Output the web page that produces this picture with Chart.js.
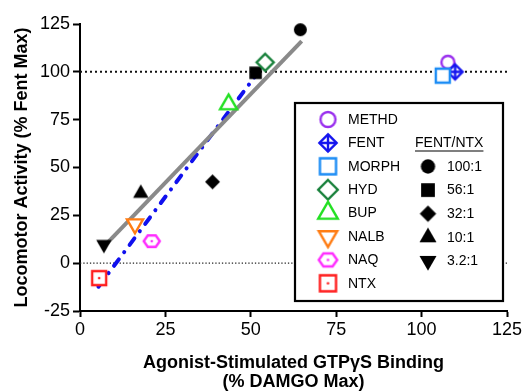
<!DOCTYPE html>
<html>
<head>
<meta charset="utf-8">
<script src="https://cdn.jsdelivr.net/npm/chart.js@4.4.1/dist/chart.umd.min.js"></script>
<style>
  body { margin: 0; background: #fff; }
  canvas { display: block; }
</style>
</head>
<body>
<canvas id="chart" width="526" height="391"></canvas>
<script>
// ============================
// Data
// ============================
const agonists = ['METHD', 'FENT', 'MORPH', 'HYD', 'BUP', 'NALB', 'NAQ', 'NTX'];
const agonistGtp = [107.7, 109.8, 106.2, 54.2, 43.5, 16.1, 21.0, 5.6];
const agonistLoco = [105, 100, 98, 105, 83, 20.5, 11.5, -7.8];

const ratios = ['100:1', '56:1', '32:1', '10:1', '3.2:1'];
const ratioGtp = [64.5, 51.4, 38.8, 17.8, 7.0];
const ratioLoco = [122, 99.5, 42.5, 36.5, 9.8];

// regression lines (all points in grey, FENT/NTX mixes in blue)
const fitAllGtp = [7.8, 64.9];
const fitAllLoco = [10.2, 116];
const fitMixGtp = [5.4, 51.6];
const fitMixLoco = [-12.3, 98.5];

const refLevels = [100, 0];
const xRange = [0, 125];
const yRange = [-25, 125];
const tickStep = 25;

const FONT = "'Liberation Sans', Arial, Helvetica, sans-serif";

// ============================
// Marker images
// ============================
function makeMarker(shape, color, size, filled, dot) {
    const pad = 4;
    const c = document.createElement('canvas');
    const dim = Math.ceil(size + pad * 2);
    c.width = dim; c.height = dim;
    const ctx = c.getContext('2d');
    const m = dim / 2, r = size / 2;
    ctx.lineWidth = 2.4;
    ctx.strokeStyle = color;
    ctx.fillStyle = filled ? color : '#fff';
    ctx.lineJoin = 'miter';
    ctx.beginPath();
    if (shape === 'circle') {
        ctx.arc(m, m, r, 0, Math.PI * 2);
    } else if (shape === 'square') {
        ctx.rect(m - r, m - r, size, size);
    } else if (shape === 'diamond' || shape === 'crossDiamond') {
        ctx.moveTo(m, m - r); ctx.lineTo(m + r, m); ctx.lineTo(m, m + r); ctx.lineTo(m - r, m);
    } else if (shape === 'triangle' || shape === 'triangleDown') {
        const R = size / Math.sqrt(3);
        const s = shape === 'triangle' ? 1 : -1;
        ctx.moveTo(m, m - s * R);
        ctx.lineTo(m + r, m + s * R / 2);
        ctx.lineTo(m - r, m + s * R / 2);
    } else if (shape === 'hexagon') {
        for (let i = 0; i < 6; i++) {
            const a = i * Math.PI / 3;
            const px = m + r * Math.cos(a), py = m + r * 0.82 * Math.sin(a);
            if (i === 0) ctx.moveTo(px, py); else ctx.lineTo(px, py);
        }
    }
    ctx.closePath();
    ctx.fill();
    if (!filled) ctx.stroke();
    if (shape === 'crossDiamond') {
        ctx.beginPath();
        ctx.moveTo(m - r, m); ctx.lineTo(m + r, m);
        ctx.moveTo(m, m - r); ctx.lineTo(m, m + r);
        ctx.stroke();
    }
    if (dot) {
        ctx.fillStyle = color;
        ctx.beginPath();
        ctx.arc(m, m, 1.3, 0, Math.PI * 2);
        ctx.fill();
    }
    return c;
}

const agonistMarkers = [
    ['circle', '#9a30ee', 13, false, false],
    ['crossDiamond', '#1414ee', 15, false, false],
    ['square', '#1b8cf5', 14, false, false],
    ['diamond', '#17803a', 17, false, false],
    ['triangle', '#22e022', 17, false, false],
    ['triangleDown', '#ff7d14', 16, false, false],
    ['hexagon', '#ff2cff', 16, false, true],
    ['square', '#ff1e1e', 14, false, true]
];
const ratioMarkers = [
    ['circle', '#000', 13, true],
    ['square', '#000', 12.5, true],
    ['diamond', '#000', 15, true],
    ['triangle', '#000', 15.5, true],
    ['triangleDown', '#000', 15.5, true]
];

const agonistImgs = agonistMarkers.map(a => makeMarker(...a));
const ratioImgs = ratioMarkers.map(a => makeMarker(...a));
const agonistLegendImgs = agonistMarkers.map(a => makeMarker(a[0], a[1], a[2] * 1.15, a[3], a[4]));
const ratioLegendImgs = ratioMarkers.map(a => makeMarker(a[0], a[1], a[2] * 1.1, a[3]));

function toPoints(xs, ys) {
    return xs.map((x, i) => ({ x: x, y: ys[i] }));
}

// ============================
// Legend box drawn inside the plot
// ============================
const legendBox = {
    id: 'legendBox',
    afterDatasetsDraw(chart) {
        const ctx = chart.ctx;
        const left = 295, top = 103, w = 208, h = 198;
        ctx.save();
        ctx.fillStyle = '#fff';
        ctx.fillRect(left, top, w, h);
        ctx.lineWidth = 2.2;
        ctx.strokeStyle = '#000';
        ctx.strokeRect(left, top, w, h);

        ctx.font = '14px ' + FONT;
        ctx.fillStyle = '#000';
        ctx.textBaseline = 'middle';
        ctx.textAlign = 'left';

        agonists.forEach((name, i) => {
            const y = top + 16.5 + i * 23.4;
            const img = agonistLegendImgs[i];
            ctx.drawImage(img, 328 - img.width / 2, y - img.height / 2);
            ctx.fillText(name, 348, y + 0.5);
        });

        // header
        const hy = top + 40;
        ctx.fillText('FENT/NTX', 415, hy);
        const hw = ctx.measureText('FENT/NTX').width;
        ctx.lineWidth = 1.2;
        ctx.beginPath();
        ctx.moveTo(415, hy + 8);
        ctx.lineTo(415 + hw, hy + 8);
        ctx.stroke();

        ratios.forEach((name, i) => {
            const y = top + 63.5 + i * 23.6;
            const img = ratioLegendImgs[i];
            ctx.drawImage(img, 428 - img.width / 2, y - img.height / 2);
            ctx.fillText(name, 447, y + 0.5);
        });
        ctx.restore();
    }
};

// ============================
// Chart
// ============================
const ctx = document.getElementById('chart').getContext('2d');
new Chart(ctx, {
    type: 'scatter',
    data: {
        datasets: [
            {
                label: 'agonists',
                data: toPoints(agonistGtp, agonistLoco),
                pointStyle: agonistImgs,
                order: 0,
                clip: false
            },
            {
                label: 'FENT/NTX',
                data: toPoints(ratioGtp, ratioLoco),
                pointStyle: ratioImgs,
                order: 0,
                clip: false
            },
            {
                type: 'line',
                label: 'fit all',
                data: toPoints(fitAllGtp, fitAllLoco),
                borderColor: '#8a8a8a',
                borderWidth: 4,
                pointRadius: 0,
                order: 1
            },
            {
                type: 'line',
                label: 'fit mix',
                data: toPoints(fitMixGtp, fitMixLoco),
                borderColor: '#1010ee',
                borderWidth: 4,
                borderDash: [8, 9, 0.1, 9],
                borderCapStyle: 'round',
                pointRadius: 0,
                order: 1
            },
            {
                type: 'line',
                label: 'ref 100',
                data: toPoints(xRange, [refLevels[0], refLevels[0]]),
                borderColor: '#111',
                borderWidth: 2,
                borderDash: [2, 3],
                pointRadius: 0,
                order: 2
            },
            {
                type: 'line',
                label: 'ref 0',
                data: toPoints(xRange, [refLevels[1], refLevels[1]]),
                borderColor: '#222',
                borderWidth: 1.2,
                borderDash: [1.3, 2],
                pointRadius: 0,
                order: 2
            }
        ]
    },
    options: {
        responsive: false,
        animation: false,
        layout: { padding: { top: 24, right: 19, left: 0, bottom: 0 } },
        plugins: {
            legend: { display: false },
            tooltip: { enabled: false }
        },
        scales: {
            x: {
                type: 'linear',
                min: xRange[0],
                max: xRange[1],
                afterFit: (s) => { s.height = 80; },
                ticks: {
                    stepSize: tickStep,
                    color: '#000',
                    padding: 2,
                    font: { family: FONT, size: 18 }
                },
                grid: {
                    drawOnChartArea: false,
                    drawTicks: true,
                    tickLength: 6,
                    tickColor: '#000',
                    tickWidth: 2
                },
                border: { color: '#000', width: 2 },
                title: {
                    display: true,
                    text: ['Agonist-Stimulated GTPγS Binding', '(% DAMGO Max)'],
                    color: '#000',
                    font: { family: FONT, size: 18, weight: 'bold', lineHeight: 1.05 },
                    padding: { top: 0, bottom: 0 }
                }
            },
            y: {
                type: 'linear',
                min: yRange[0],
                max: yRange[1],
                afterFit: (s) => { s.width = 80; },
                ticks: {
                    stepSize: tickStep,
                    color: '#000',
                    padding: 3,
                    font: { family: FONT, size: 18 }
                },
                grid: {
                    drawOnChartArea: false,
                    drawTicks: true,
                    tickLength: 7,
                    tickColor: '#000',
                    tickWidth: 2
                },
                border: { color: '#000', width: 2 },
                title: {
                    display: true,
                    text: 'Locomotor Activity (% Fent Max)',
                    color: '#000',
                    font: { family: FONT, size: 18, weight: 'bold' },
                    padding: { top: 11, bottom: 0 }
                }
            }
        }
    },
    plugins: [legendBox]
});
</script>
</body>
</html>
